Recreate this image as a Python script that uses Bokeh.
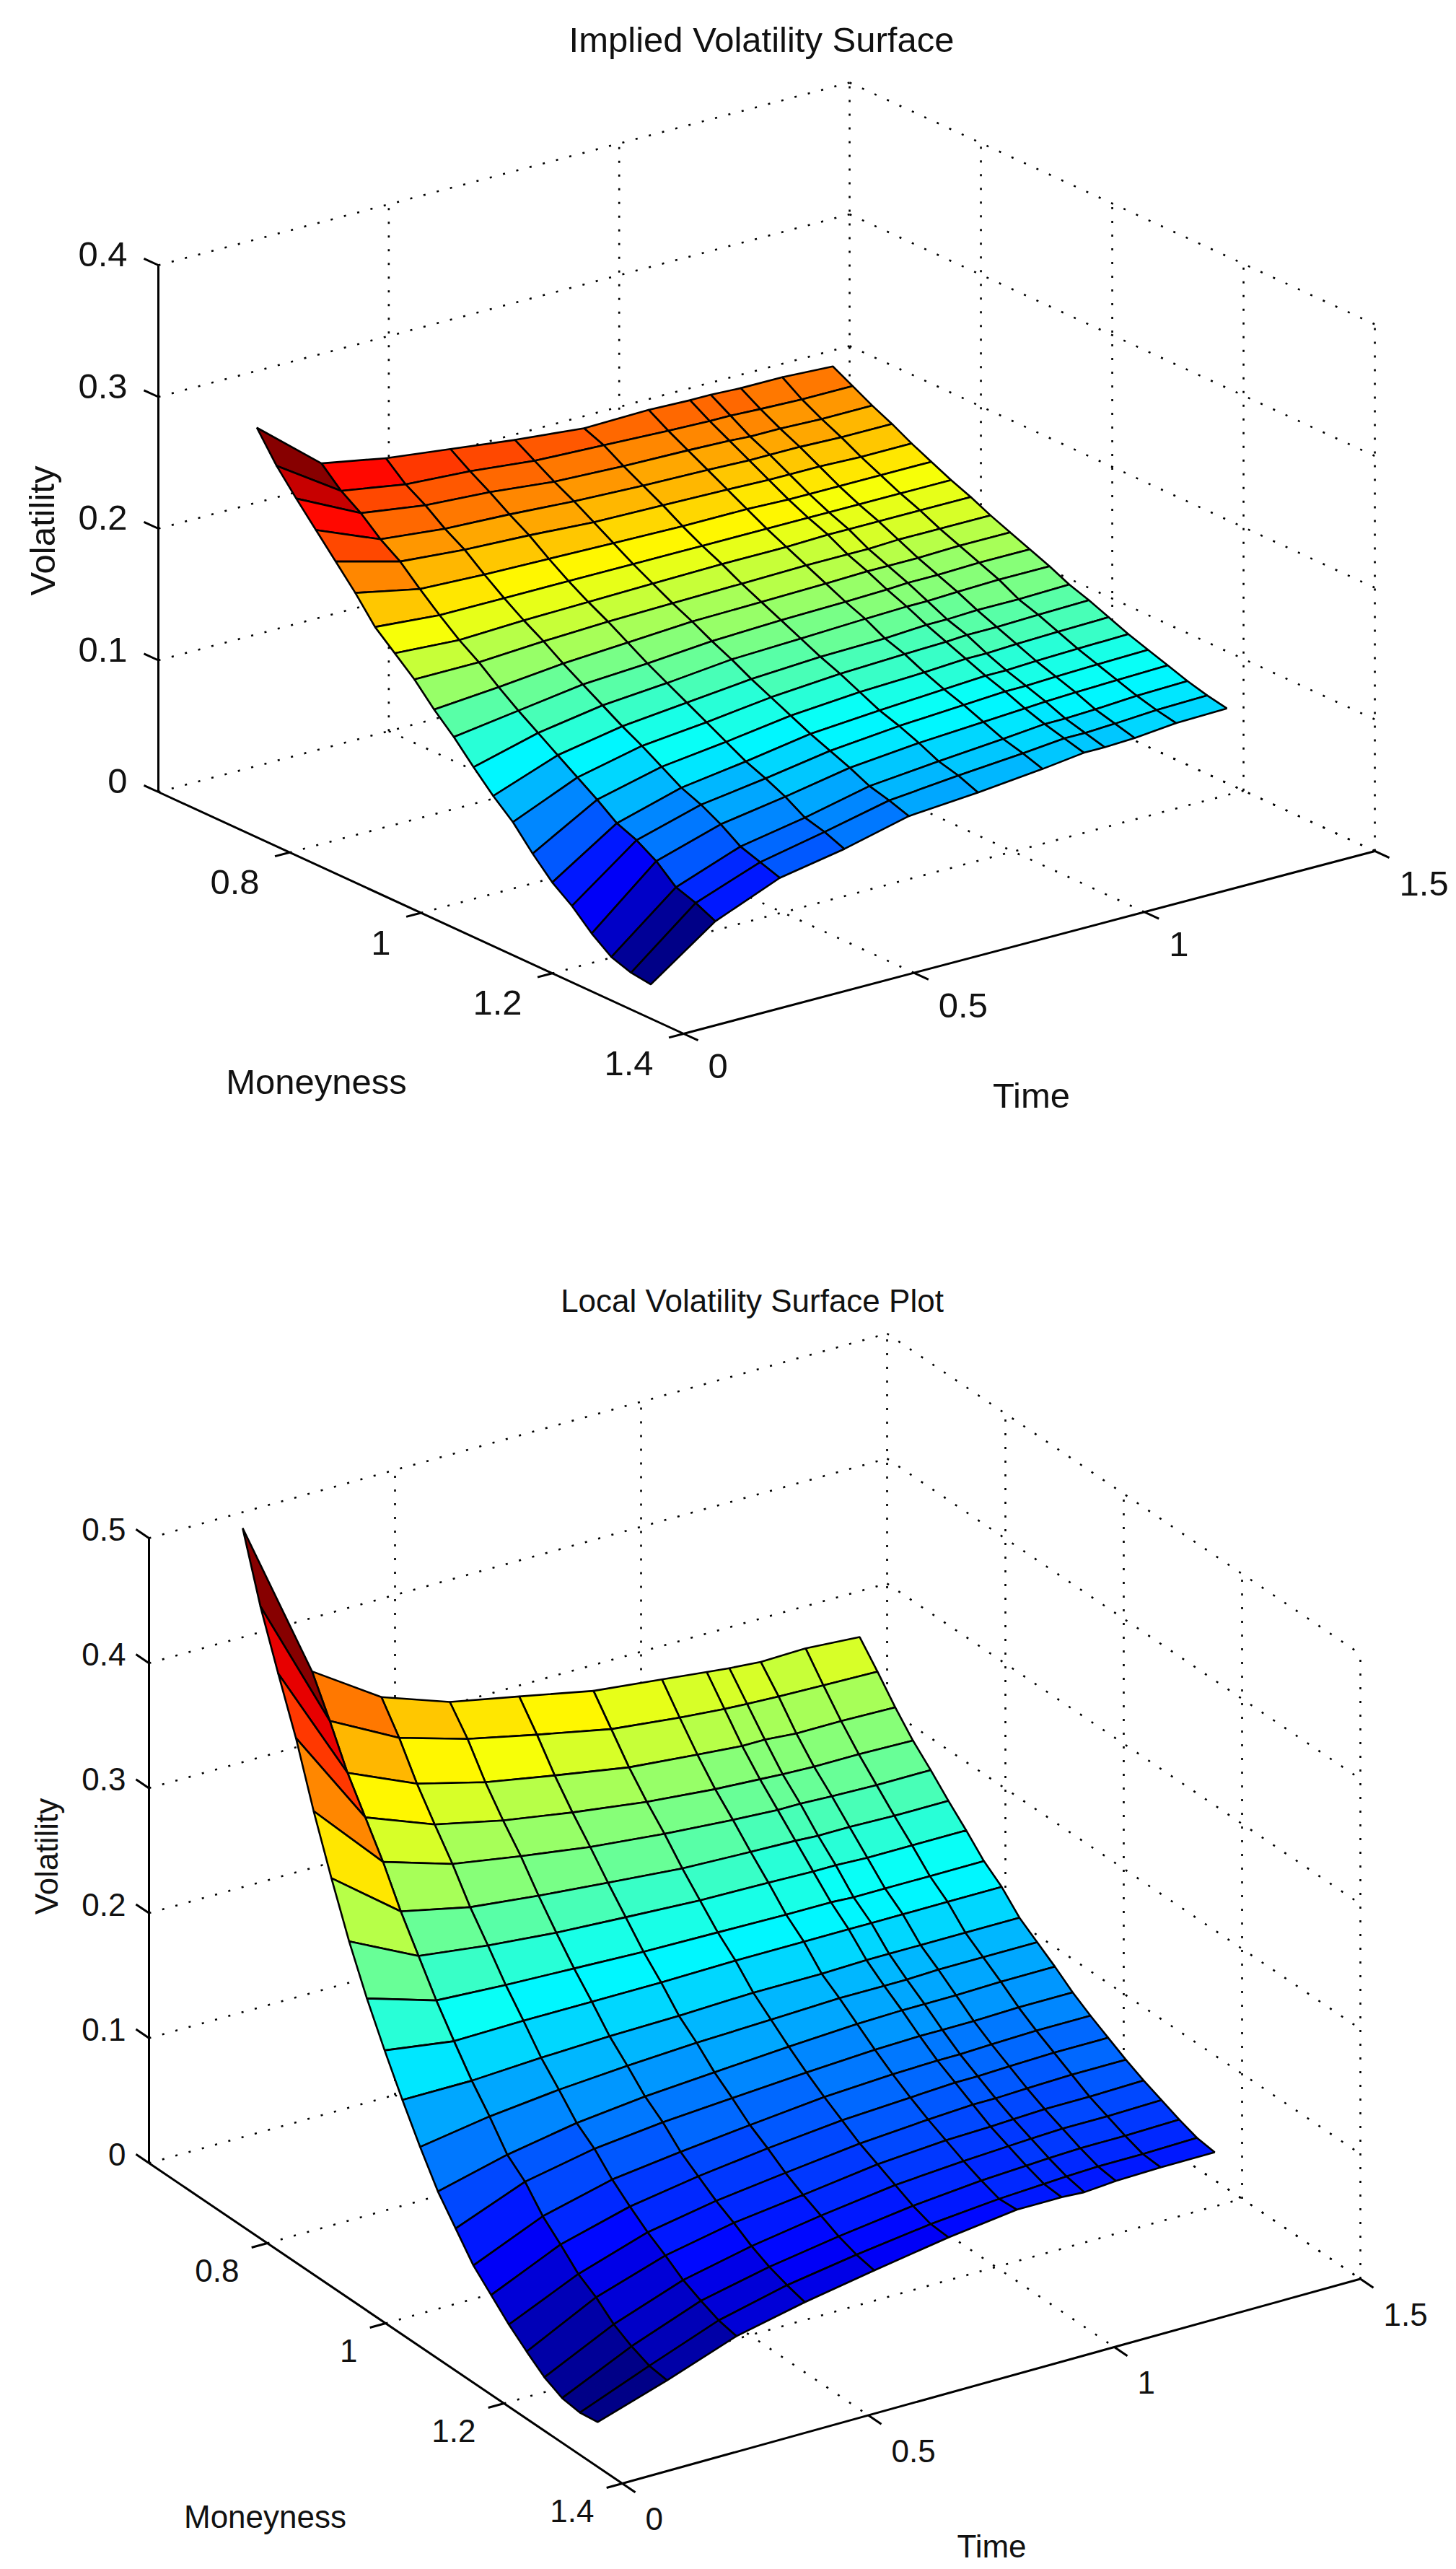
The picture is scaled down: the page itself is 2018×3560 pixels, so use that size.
from bokeh.plotting import figure
from bokeh.layouts import column
from bokeh.models import Range1d
from bokeh.embed import file_html
from bokeh.resources import INLINE
from bokeh.core.properties import value

FONT = "Liberation Sans"

# Grid of the two surfaces
moneyness = [0.75, 0.78, 0.81, 0.84, 0.87, 0.90, 0.93, 0.96, 0.99, 1.02, 1.05,
             1.08, 1.11, 1.14, 1.17, 1.20, 1.23, 1.26, 1.29, 1.32, 1.35]
time_iv = [0.0, 0.14, 0.28, 0.42, 0.56, 0.71, 0.85, 0.94, 0.985, 1.05, 1.14, 1.25]
time_lv = [0.01, 0.151, 0.292, 0.431, 0.572, 0.723, 0.862, 0.953, 0.999, 1.063, 1.154, 1.264]

# Implied volatility, one row per moneyness, one column per time
implied_vol = [
    [.311, .271, .262, .256, .250, .245, .246, .245, .245, .244, .244, .242],
    [.289, .257, .249, .246, .241, .239, .237, .236, .236, .235, .234, .234],
    [.271, .247, .240, .237, .232, .230, .229, .228, .227, .227, .226, .226],
    [.254, .234, .229, .227, .224, .222, .221, .220, .220, .220, .219, .219],
    [.237, .224, .220, .218, .215, .214, .213, .212, .212, .212, .211, .211],
    [.220, .210, .208, .207, .206, .205, .205, .204, .204, .204, .204, .204],
    [.201, .197, .197, .197, .197, .197, .197, .197, .197, .197, .197, .197],
    [.188, .185, .187, .188, .189, .190, .190, .191, .191, .191, .191, .191],
    [.175, .175, .178, .180, .181, .182, .183, .183, .183, .184, .184, .184],
    [.159, .163, .168, .171, .174, .175, .176, .177, .177, .177, .178, .178],
    [.145, .152, .159, .162, .166, .168, .169, .170, .171, .171, .172, .172],
    [.129, .142, .150, .154, .159, .161, .163, .164, .164, .165, .166, .166],
    [.114, .132, .141, .146, .151, .154, .155, .157, .157, .158, .158, .159],
    [.101, .122, .133, .138, .144, .148, .150, .151, .152, .152, .153, .154],
    [.084, .112, .124, .130, .137, .141, .143, .145, .145, .146, .147, .148],
    [.069, .101, .115, .122, .130, .134, .137, .139, .139, .140, .141, .142],
    [.058, .095, .109, .116, .124, .129, .132, .134, .134, .135, .136, .137],
    [.044, .086, .101, .109, .118, .123, .126, .128, .129, .130, .131, .132],
    [.033, .073, .091, .100, .111, .116, .120, .123, .123, .124, .126, .127],
    [.028, .068, .086, .096, .107, .112, .116, .119, .119, .120, .122, .123],
    [.026, .061, .081, .090, .102, .106, .111, .115, .115, .116, .119, .120],
]

# Local volatility, one row per moneyness, one column per time
local_vol = [
    [.555, .425, .389, .370, .359, .347, .341, .337, .335, .333, .334, .331],
    [.502, .395, .366, .350, .338, .326, .320, .317, .316, .315, .314, .313],
    [.458, .363, .339, .325, .315, .305, .300, .297, .297, .295, .295, .294],
    [.416, .337, .316, .304, .295, .287, .282, .280, .279, .278, .278, .277],
    [.367, .311, .294, .285, .277, .271, .267, .265, .265, .264, .263, .263],
    [.323, .281, .269, .263, .258, .253, .251, .250, .249, .249, .248, .248],
    [.282, .255, .248, .243, .240, .237, .236, .235, .235, .234, .234, .234],
    [.246, .229, .226, .224, .222, .221, .220, .220, .219, .219, .219, .219],
    [.214, .206, .207, .207, .207, .208, .208, .208, .208, .208, .208, .208],
    [.184, .184, .187, .189, .190, .192, .192, .193, .193, .193, .193, .193],
    [.156, .165, .171, .175, .178, .180, .182, .182, .182, .183, .183, .183],
    [.130, .144, .154, .160, .164, .168, .171, .172, .172, .172, .173, .173],
    [.110, .132, .143, .149, .153, .157, .160, .161, .161, .161, .162, .162],
    [.090, .114, .128, .135, .141, .147, .150, .151, .151, .152, .153, .153],
    [.076, .101, .116, .125, .132, .138, .141, .143, .143, .144, .145, .145],
    [.062, .087, .105, .115, .122, .129, .133, .135, .135, .136, .137, .137],
    [.050, .078, .096, .107, .114, .122, .126, .127, .128, .129, .129, .130],
    [.039, .066, .086, .098, .107, .115, .119, .121, .122, .123, .123, .124],
    [.032, .058, .079, .091, .100, .108, .113, .115, .116, .117, .117, .118],
    [.030, .052, .073, .086, .095, .103, .108, .110, .111, .112, .112, .113],
    [.032, .050, .070, .082, .092, .102, .109, .109, .108, .110, .111, .111],
]

# Axis ticks
moneyness_ticks = [0.8, 1.0, 1.2, 1.4]
moneyness_labels = ["0.8", "1", "1.2", "1.4"]
time_ticks = [0.0, 0.5, 1.0, 1.5]
time_labels = ["0", "0.5", "1", "1.5"]
iv_z_ticks = [0.0, 0.1, 0.2, 0.3, 0.4]
iv_z_labels = ["0", "0.1", "0.2", "0.3", "0.4"]
lv_z_ticks = [0.0, 0.1, 0.2, 0.3, 0.4, 0.5]
lv_z_labels = ["0", "0.1", "0.2", "0.3", "0.4", "0.5"]


def jet(f):
    """MATLAB jet(64) colour for a fraction of the colour limits."""
    f = (min(int(max(0.0, min(f, 0.9999)) * 64), 63) + 0.5) / 64
    clip = lambda v: max(0.0, min(1.0, v))
    r = clip(min(4 * f - 1.5, -4 * f + 4.5))
    g = clip(min(4 * f - 0.5, -4 * f + 3.5))
    b = clip(min(4 * f + 0.5, -4 * f + 2.5))
    return "#%02x%02x%02x" % (round(r * 255), round(g * 255), round(b * 255))


def draw(p, view, times, z, z_ticks, z_labels, title, size, lab):
    ox, oy, mx, my, tx, ty, zy = view

    def proj(m, t, h):
        return (ox + mx * (m - 1.4) + tx * t,
                oy + my * (m - 1.4) - ty * t - zy * h)

    def seg(a, b):
        pa, pb = proj(*a), proj(*b)
        return [pa[0], pb[0]], [pa[1], pb[1]]

    m0, m1, t0, t1, ztop = 0.6, 1.4, 0.0, 1.5, z_ticks[-1]
    dotted = []
    for h in z_ticks:
        dotted.append(seg((m0, t0, h), (m0, t1, h)))
        dotted.append(seg((m0, t1, h), (m1, t1, h)))
    for t in time_ticks[1:]:
        dotted.append(seg((m0, t, 0), (m0, t, ztop)))
        dotted.append(seg((m0, t, 0), (m1, t, 0)))
    for m in moneyness_ticks:
        dotted.append(seg((m, t1, 0), (m, t1, ztop)))
        if m < m1:
            dotted.append(seg((m, t0, 0), (m, t1, 0)))
    p.multi_line([d[0] for d in dotted], [d[1] for d in dotted],
                 line_color="black", line_width=2.6, line_dash="3 16")

    # Surface facets, far corner first
    zmin = min(min(r) for r in z)
    zmax = max(max(r) for r in z)
    xs, ys, cols = [], [], []
    for k in range(len(moneyness) - 1):
        for j in range(len(times) - 2, -1, -1):
            corners = [(k, j), (k, j + 1), (k + 1, j + 1), (k + 1, j)]
            pts = [proj(moneyness[a], times[b], z[a][b]) for a, b in corners]
            xs.append([q[0] for q in pts])
            ys.append([q[1] for q in pts])
            cols.append(jet((z[k][j] - zmin) / (zmax - zmin)))
    p.patches(xs, ys, fill_color=cols, line_color="black", line_width=2.6)

    # Solid axes and ticks
    solid = [seg((m0, t0, 0), (m0, t0, ztop)),
             seg((m0, t0, 0), (m1, t0, 0)),
             seg((m1, t0, 0), (m1, t1, 0))]
    for h in z_ticks:
        solid.append(seg((m0, t0, h), (m0 - 0.022, t0, h)))
    for m in moneyness_ticks:
        solid.append(seg((m, t0, 0), (m, t0 - 0.032, 0)))
    for t in time_ticks:
        solid.append(seg((m1, t, 0), (m1 + 0.022, t, 0)))
    p.multi_line([d[0] for d in solid], [d[1] for d in solid],
                 line_color="black", line_width=3)

    fs = value(f"{size}px")
    font = value(FONT)

    def labels(pts, texts, align, dx, dy):
        p.text([q[0] for q in pts], [q[1] for q in pts], text=texts,
               text_font=font, text_font_size=fs, text_color="#111111",
               text_align=align, text_baseline="middle", x_offset=dx, y_offset=dy)

    labels([proj(m0, t0, h) for h in z_ticks], z_labels, "right", *lab["z"])
    labels([proj(m, t0, 0) for m in moneyness_ticks], moneyness_labels, "right", *lab["m"])
    labels([proj(m1, t, 0) for t in time_ticks], time_labels, "left", *lab["t"])

    p.text([lab["title"][0]], [lab["title"][1]], text=[title], text_font=font,
           text_font_size=fs, text_color="#111111", text_align="center",
           text_baseline="middle")
    p.text([lab["mname"][0]], [lab["mname"][1]], text=["Moneyness"], text_font=font,
           text_font_size=fs, text_color="#111111", text_align="center",
           text_baseline="middle")
    p.text([lab["tname"][0]], [lab["tname"][1]], text=["Time"], text_font=font,
           text_font_size=fs, text_color="#111111", text_align="center",
           text_baseline="middle")
    p.text([lab["zname"][0]], [lab["zname"][1]], text=["Volatility"], text_font=font,
           text_font_size=fs, text_color="#111111", text_align="center",
           text_baseline="middle", angle=1.5708)


def panel(height, ytop, ybot):
    p = figure(width=2018, height=height, x_range=Range1d(0, 2018),
               y_range=Range1d(ybot, ytop), toolbar_location=None, tools="",
               output_backend="svg", x_axis_location=None, y_axis_location=None,
               min_border=0, outline_line_color=None, background_fill_color="white")
    p.grid.visible = False
    return p


p1 = panel(1740, 0, 1740)
draw(p1, (947, 1432, 910, 418.75, 638.7, 168.7, 1825), time_iv, implied_vol,
     iv_z_ticks, iv_z_labels, "Implied Volatility Surface", 49,
     dict(z=(-43, -15), m=(-42, 41), t=(34, 45), title=(1055, 54),
          mname=(438, 1498), tname=(1429, 1517), zname=(58, 735)))

p2 = panel(1820, 1740, 3560)
draw(p2, (862, 3441, 820, 555, 682, 189, 1732), time_lv, local_vol,
     lv_z_ticks, lv_z_labels, "Local Volatility Surface Plot", 44,
     dict(z=(-32, -12), m=(-39, 38), t=(32, 49), title=(1042, 1802),
          mname=(367, 3487), tname=(1374, 3528), zname=(64, 2572)))

open("out.html", "w").write(file_html(column(p1, p2, spacing=0), INLINE))
